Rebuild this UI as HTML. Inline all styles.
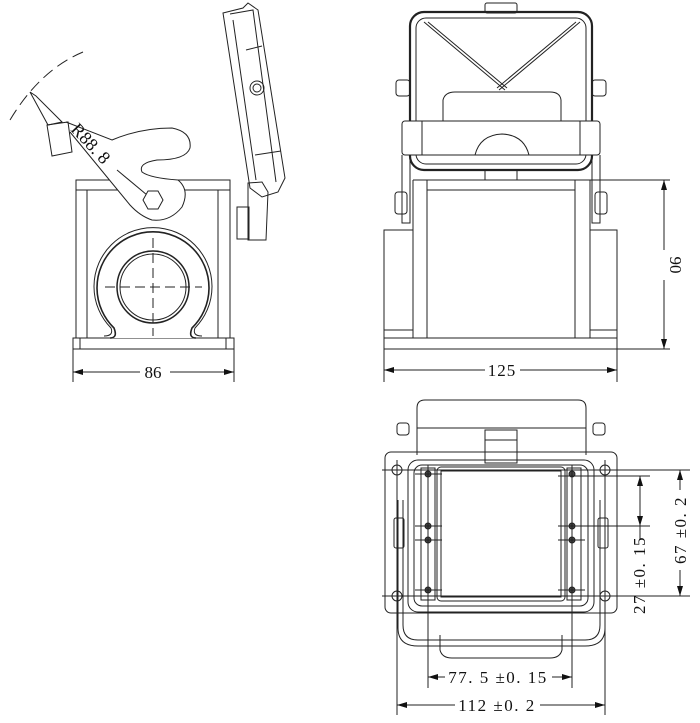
<!DOCTYPE html>
<html><head><meta charset="utf-8"><style>
html,body{margin:0;padding:0;background:#fff;}
svg{display:block;}
text{font-family:"Liberation Serif","Noto Serif CJK SC",serif;fill:#111;}
</style></head><body>
<svg width="700" height="723" viewBox="0 0 700 723" xmlns="http://www.w3.org/2000/svg">
<defs>
<marker id="a" viewBox="0 0 10 6" refX="10" refY="3" markerWidth="10" markerHeight="6" orient="auto-start-reverse" markerUnits="userSpaceOnUse"><path d="M0,0L10,3L0,6z" fill="#111"/></marker>
</defs>
<g fill="none" stroke="#222" stroke-width="1">
<!-- LEFT VIEW -->
<path d="M10,120 Q40,70 83,52" stroke-dasharray="12,6"/>
<rect x="76" y="180" width="154" height="10"/>
<rect x="76" y="190" width="154" height="148"/>
<line x1="87" y1="190" x2="87" y2="338"/><line x1="218" y1="190" x2="218" y2="338"/>
<rect x="73" y="338" width="161" height="11"/>
<line x1="80" y1="338" x2="80" y2="349"/><line x1="226" y1="338" x2="226" y2="349"/>
<path d="M110,338 Q118,338 114,328 A56,56 0 1 1 192,328 Q188,338 196,338" stroke-width="1.6" fill="#fff"/>
<path d="M104,336 Q114,336 111,328 A59,59 0 1 1 195,328 Q192,336 202,336"/>
<circle cx="153" cy="287" r="36" stroke-width="1.5"/><circle cx="153" cy="287" r="33"/>
<line x1="153" y1="238" x2="153" y2="336" stroke-dasharray="10,5"/>
<line x1="105" y1="287" x2="202" y2="287" stroke-dasharray="10,5"/>
<path d="M66,122 L112,140 Q140,128 172,128 Q192,132 190,148 Q186,160 157,160 Q138,163 142,172 Q150,178 178,180 Q190,190 182,207 Q170,222 152,220 Q140,216 130,205 L70,132" fill="#fff"/>
<path d="M47,125 L68,122 L72,152 L52,156 Z"/>
<path d="M30,92 L36,96 L62,122 L48,125 Z"/>
<line x1="117" y1="170" x2="153" y2="200"/>
<polygon points="163,200 158,209 148,209 143,200 148,191 158,191" fill="#fff"/>
<path d="M223,13 L243,8 L248,3 L258,10 L285,178 L278,192 L262,197 L250,188 Z"/>
<path d="M230,14 L253,10 L276,182"/>
<path d="M233,20 L256,180"/>
<line x1="246" y1="50" x2="262" y2="46"/><line x1="255" y1="155" x2="281" y2="151"/>
<circle cx="257" cy="88" r="7"/><circle cx="257" cy="88" r="4"/>
<path d="M248,183 L262,182 L268,192 L266,240 L248,240 Z"/>
<rect x="237" y="207" width="12" height="32"/>
<line x1="73" y1="349" x2="73" y2="382"/><line x1="234" y1="349" x2="234" y2="382"/>
<line x1="73" y1="372" x2="140" y2="372" marker-start="url(#a)"/>
<line x1="170" y1="372" x2="234" y2="372" marker-end="url(#a)"/>

<!-- RIGHT TOP VIEW -->
<rect x="485" y="3" width="32" height="10" rx="2"/>
<rect x="410" y="12" width="182" height="158" rx="14" stroke-width="2.2"/>
<rect x="416" y="18" width="170" height="146" rx="10"/>
<line x1="424" y1="22" x2="505" y2="90"/><line x1="580" y1="22" x2="499" y2="90"/>
<line x1="428" y1="22" x2="507" y2="88"/><line x1="576" y1="22" x2="497" y2="88"/>
<path d="M443,122 L443,100 Q445,92 455,92 L550,92 Q560,92 561,100 L561,122" fill="#fff"/>
<rect x="402" y="121" width="198" height="34" rx="3" fill="#fff"/>
<line x1="422" y1="121" x2="422" y2="155"/><line x1="580" y1="121" x2="580" y2="155"/>
<path d="M475,155 Q480,135 502,134 Q524,135 529,155"/>
<rect x="396" y="80" width="14" height="16" rx="3"/><rect x="592" y="80" width="14" height="16" rx="3"/>
<rect x="485" y="170" width="32" height="10"/>
<line x1="413" y1="180" x2="670" y2="180"/>
<line x1="413" y1="180" x2="413" y2="338"/><line x1="590" y1="180" x2="590" y2="338"/>
<line x1="427" y1="180" x2="427" y2="338"/><line x1="575" y1="180" x2="575" y2="338"/>
<line x1="427" y1="190" x2="575" y2="190"/>
<path d="M402,155 L402,223 L410,223 L410,155"/><path d="M600,155 L600,223 L592,223 L592,155"/>
<rect x="395" y="192" width="12" height="22" rx="3"/><rect x="595" y="192" width="12" height="22" rx="3"/>
<path d="M384,338 L384,230 L413,230"/><path d="M617,338 L617,230 L590,230"/>
<rect x="384" y="338" width="233" height="11"/>
<line x1="384" y1="330" x2="413" y2="330"/><line x1="590" y1="330" x2="617" y2="330"/>
<line x1="590" y1="349" x2="670" y2="349"/>
<line x1="384" y1="349" x2="384" y2="382"/><line x1="617" y1="349" x2="617" y2="382"/>
<line x1="384" y1="370" x2="485" y2="370" marker-start="url(#a)"/>
<line x1="520" y1="370" x2="617" y2="370" marker-end="url(#a)"/>
<line x1="664" y1="180" x2="664" y2="250" marker-start="url(#a)"/>
<line x1="664" y1="280" x2="664" y2="349" marker-end="url(#a)"/>

<!-- BOTTOM VIEW -->
<path d="M417,455 L417,408 Q417,400 425,400 L578,400 Q586,400 586,408 L586,455"/>
<line x1="417" y1="428" x2="586" y2="428"/>
<rect x="485" y="430" width="32" height="33"/><line x1="485" y1="440" x2="517" y2="440"/>
<rect x="397" y="423" width="12" height="12" rx="3"/><rect x="593" y="423" width="12" height="12" rx="3"/>
<rect x="385" y="452" width="232" height="161" rx="6"/>
<rect x="408" y="460" width="186" height="152" rx="10"/>
<rect x="414" y="465" width="174" height="141" rx="8"/>
<rect x="437" y="467" width="128" height="134" rx="4"/>
<rect x="441" y="471" width="120" height="126"/>
<rect x="421" y="468" width="14" height="132"/><rect x="567" y="468" width="14" height="132"/>
<path d="M403,500 L403,625 Q403,640 418,640 L585,640 Q600,640 600,625 L600,500"/>
<path d="M398,500 L398,628 Q398,646 418,646 L585,646 Q605,646 605,628 L605,500"/>
<path d="M440,635 L440,650 Q442,658 452,658 L550,658 Q560,658 562,650 L562,635"/>
<rect x="394" y="518" width="10" height="30" rx="2"/><rect x="598" y="518" width="10" height="30" rx="2"/>
<circle cx="397" cy="470" r="5"/><circle cx="605" cy="470" r="5"/>
<circle cx="397" cy="596" r="5"/><circle cx="605" cy="596" r="5"/>
<g fill="#444">
<circle cx="428" cy="474" r="3"/><circle cx="572" cy="474" r="3"/>
<circle cx="428" cy="526" r="3"/><circle cx="572" cy="526" r="3"/>
<circle cx="428" cy="540" r="3"/><circle cx="572" cy="540" r="3"/>
<circle cx="428" cy="590" r="3"/><circle cx="572" cy="590" r="3"/>
</g>
<line x1="382" y1="470" x2="690" y2="470"/><line x1="382" y1="596" x2="690" y2="596"/>
<line x1="415" y1="474" x2="442" y2="474"/><line x1="558" y1="476" x2="650" y2="476"/>
<line x1="415" y1="526" x2="442" y2="526"/><line x1="558" y1="526" x2="650" y2="526"/>
<line x1="415" y1="540" x2="442" y2="540"/><line x1="558" y1="540" x2="585" y2="540"/>
<line x1="415" y1="590" x2="442" y2="590"/><line x1="558" y1="590" x2="585" y2="590"/>
<line x1="397" y1="460" x2="397" y2="715"/><line x1="605" y1="460" x2="605" y2="715"/>
<line x1="428" y1="465" x2="428" y2="688"/><line x1="572" y1="465" x2="572" y2="688"/>
<line x1="428" y1="677" x2="445" y2="677" marker-start="url(#a)"/>
<line x1="552" y1="677" x2="572" y2="677" marker-end="url(#a)"/>
<line x1="397" y1="705" x2="455" y2="705" marker-start="url(#a)"/>
<line x1="540" y1="705" x2="605" y2="705" marker-end="url(#a)"/>
<line x1="640" y1="476" x2="640" y2="526" marker-start="url(#a)" marker-end="url(#a)"/>
<line x1="640" y1="526" x2="640" y2="540"/>
<line x1="680" y1="470" x2="680" y2="490" marker-start="url(#a)"/>
<line x1="680" y1="570" x2="680" y2="596" marker-end="url(#a)"/>
</g>
<g font-size="17">
<text x="153" y="378" text-anchor="middle">86</text>
<text x="502" y="376" text-anchor="middle" letter-spacing="1">125</text>
<text transform="translate(670,265) rotate(90)" text-anchor="middle">90</text>
<text x="498" y="683" text-anchor="middle" letter-spacing="1.5">77. 5 ±0. 15</text>
<text x="497" y="711" text-anchor="middle" letter-spacing="1.5">112 ±0. 2</text>
<text transform="translate(645,575) rotate(-90)" text-anchor="middle" letter-spacing="1.5">27 ±0. 15</text>
<text transform="translate(686,530) rotate(-90)" text-anchor="middle" letter-spacing="1.5">67 ±0. 2</text>
<text transform="translate(70,130) rotate(47)" font-size="18">R88. 8</text>
</g>
</svg>
</body></html>
